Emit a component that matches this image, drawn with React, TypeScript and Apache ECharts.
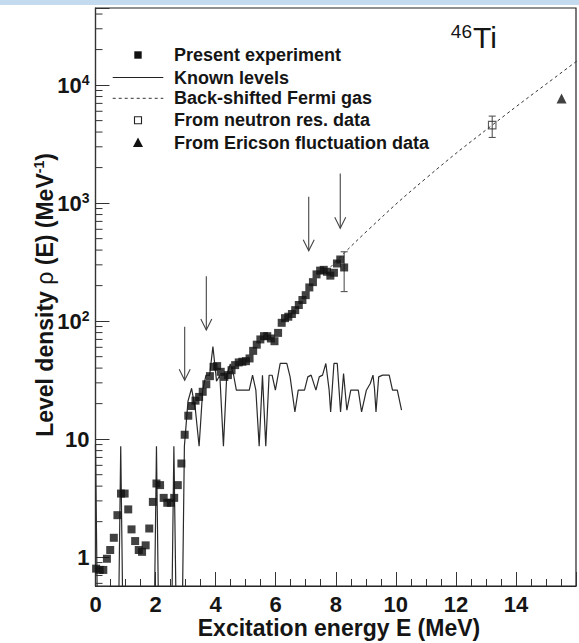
import React, { useEffect, useRef } from "react";
import * as echarts from "echarts";

// Present experiment: excitation energy (MeV) and level density (1/MeV)
const expE = [
  0.02, 0.14, 0.26, 0.38, 0.49, 0.61, 0.73, 0.85, 0.97,
  1.09, 1.2, 1.32, 1.44, 1.55, 1.67, 1.79, 1.91,
  2.03, 2.15, 2.27, 2.39, 2.51, 2.62, 2.74, 2.86, 2.97,
  3.09, 3.21, 3.33, 3.45, 3.57, 3.69, 3.81, 3.93,
  4.05, 4.17, 4.29, 4.41, 4.53, 4.65, 4.77, 4.89,
  5.01, 5.13, 5.25, 5.37, 5.49, 5.61, 5.72, 5.84, 5.96,
  6.08, 6.2, 6.31, 6.42, 6.54, 6.65, 6.77, 6.89,
  7.0, 7.12, 7.24, 7.36, 7.48, 7.6, 7.71, 7.82, 7.94,
  8.04, 8.15, 8.28,
];
const expRho = [
  0.8, 0.78, 0.78, 0.97, 1.15, 1.46, 2.27, 3.46, 3.46,
  2.54, 1.72, 1.37, 1.15, 1.11, 1.26, 1.75, 2.94,
  4.21, 4.08, 3.18, 2.89, 2.89, 3.18, 4.08, 6.22, 10.9,
  15.8, 19.1, 21.2, 22.8, 25.2, 29.2, 34.2, 41.0,
  41.6, 37.2, 33.7, 34.9, 38.4, 42.4, 44.7, 45.3,
  45.8, 48.3, 56.0, 63.2, 70.0, 74.6, 74.6, 71.3, 67.6,
  79.5, 96.8, 106, 109, 115, 124, 137, 151,
  166, 193, 214, 249, 268, 272, 262, 243, 257,
  308, 333, 285,
];
// error bar on the highest-energy point
const expErrE = [8.28];
const expErrLow = [178];
const expErrHigh = [387];

// Known levels (binned); empty bins sit below the axis floor
const knownE = [
  0.0, 0.1, 0.73, 0.84, 0.95, 1.92, 2.03, 2.14, 2.5, 2.61, 2.73, 2.85, 2.96,
  3.08, 3.2, 3.33, 3.45, 3.57, 3.68, 3.8, 3.91,
  4.03, 4.14, 4.26, 4.37, 4.49, 4.6, 4.69, 4.8, 4.92,
  5.03, 5.12, 5.23, 5.34, 5.45, 5.56, 5.67, 5.78, 5.88, 5.99,
  6.15, 6.37, 6.48, 6.64, 6.75, 6.96,
  7.07, 7.18, 7.34, 7.45, 7.56, 7.67, 7.78, 7.83, 7.94,
  8.05, 8.16, 8.26, 8.37, 8.5, 8.75, 8.86,
  9.02, 9.15, 9.24, 9.29, 9.34, 9.43, 9.56, 9.78, 9.89,
  10.05, 10.19,
];
const knownRho = [
  9.0, 0.05, 0.05, 8.7, 0.05, 0.05, 8.7, 0.05, 0.05, 8.7, 0.05, 0.05, 8.7,
  21, 27, 17.4, 8.7, 26, 34.8, 34.8, 61,
  31, 34.8, 8.7, 34.8, 43.5, 34.8, 26, 26, 26,
  26, 26, 34.8, 26, 8.7, 34.8, 8.7, 34.8, 34.8, 26,
  43.8, 43.8, 33.7, 17, 26, 26,
  33.7, 34.9, 26, 33.7, 34.9, 43.8, 26, 17, 43.8,
  43.8, 17, 36, 17.6, 26, 26, 17,
  26, 29.6, 34.9, 26.9, 17, 33.7, 34.9, 34.9, 26,
  26, 17.6,
];

// Back-shifted Fermi gas curve
const bsfgE = [7.83, 9.07, 11.0, 13.21, 15.7, 16.2];
const bsfgRho = [288, 590, 1620, 4580, 13840, 17200];

// Neutron resonance point with error, Ericson fluctuation point
const neutronE = [13.21];
const neutronRho = [4580];
const neutronLow = [3600];
const neutronHigh = [5460];
const ericsonE = [15.52];
const ericsonRho = [7700];

// Arrows: energy, tail value, tip value
const arrowE = [2.97, 3.69, 7.1, 8.15];
const arrowTail = [89.5, 240, 1130, 1785];
const arrowTip = [31.6, 84, 394, 611];

// Axis ranges and decade labels
const xMin = 0;
const xMax = 16;
const xStep = 2;
const yMin = 0.57;
const yMax = 45000;
const yDecades = [1, 10, 100, 1000, 10000];
const yMinorMultipliers = [2, 3, 4, 5, 6, 7, 8, 9];

const FONT = "'Liberation Sans', Arial, Helvetica, sans-serif";
const INK = "#151515";

const legendItems = [
  "Present experiment",
  "Known levels",
  "Back-shifted Fermi gas",
  "From neutron res. data",
  "From Ericson fluctuation data",
];

function buildOption(): any {
  const minorTicks: number[][] = [];
  [0.1, ...yDecades].forEach((d) => {
    yMinorMultipliers.forEach((m) => {
      const v = d * m;
      if (v > yMin && v < yMax) minorTicks.push([0, v]);
    });
  });

  const legendY = [55, 77.5, 98.3, 120.3, 142.5];
  const legendTextX = 174;
  const markX = 138;

  return {
    animation: false,
    backgroundColor: "#ffffff",
    grid: {
      left: 95.5,
      top: 8,
      right: -9.3,
      bottom: 57,
      show: true,
      borderColor: "#222",
      borderWidth: 1.2,
      backgroundColor: "transparent",
    },
    xAxis: {
      type: "value",
      min: xMin,
      max: xMax,
      interval: xStep,
      axisLine: { show: true, lineStyle: { color: "#222", width: 1.2 } },
      axisTick: { show: true, inside: true, length: 14, lineStyle: { color: "#333", width: 1 } },
      minorTick: { show: true, splitNumber: 4, length: 7, lineStyle: { color: "#333", width: 1 } },
      splitLine: { show: false },
      axisLabel: {
        margin: 8,
        fontSize: 22,
        lineHeight: 20,
        fontWeight: "bold",
        fontFamily: FONT,
        color: INK,
        formatter: (v: number) => (v >= xMax ? "" : String(v)),
      },
    },
    yAxis: {
      type: "log",
      logBase: 10,
      min: yMin,
      max: yMax,
      axisLine: { show: true, lineStyle: { color: "#333", width: 1.2 } },
      axisTick: { show: true, inside: true, length: 14, lineStyle: { color: "#333", width: 1 } },
      splitLine: { show: false },
      axisLabel: {
        margin: 6,
        formatter: (v: number) => {
          const l = Math.log10(v);
          const e = Math.round(l);
          if (Math.abs(l - e) > 1e-6) return "";
          if (e === 0) return "{b|1}";
          if (e === 1) return "{b|10}";
          return `{b|10}{s|${e}}`;
        },
        rich: {
          b: { fontSize: 22, fontWeight: "bold", fontFamily: FONT, color: INK, lineHeight: 24 },
          s: { fontSize: 14, fontWeight: "bold", fontFamily: FONT, color: INK, lineHeight: 14, verticalAlign: "top" },
        },
      },
    },
    series: [
      {
        name: "Known levels",
        type: "line",
        data: knownE.map((e, i) => [e, knownRho[i]]),
        symbol: "none",
        clip: true,
        lineStyle: { color: "#2a2a2a", width: 1.2 },
        z: 2,
      },
      {
        name: "Back-shifted Fermi gas",
        type: "line",
        data: bsfgE.map((e, i) => [e, bsfgRho[i]]),
        symbol: "none",
        smooth: true,
        clip: true,
        lineStyle: { color: "#333", width: 1, type: [3, 3] },
        z: 2,
      },
      {
        name: "Minor ticks",
        type: "custom",
        data: minorTicks,
        silent: true,
        renderItem: (_p: any, api: any) => {
          const p = api.coord([api.value(0), api.value(1)]);
          return {
            type: "line",
            shape: { x1: p[0], y1: p[1], x2: p[0] + 7, y2: p[1] },
            style: { stroke: "#333", lineWidth: 1 },
          };
        },
        z: 3,
      },
      {
        name: "Arrows",
        type: "custom",
        data: arrowE.map((e, i) => [e, arrowTail[i], arrowTip[i]]),
        encode: { x: 0, y: [1, 2] },
        silent: true,
        renderItem: (_p: any, api: any) => {
          const a = api.coord([api.value(0), api.value(1)]);
          const b = api.coord([api.value(0), api.value(2)]);
          return {
            type: "group",
            children: [
              {
                type: "line",
                shape: { x1: a[0], y1: a[1], x2: b[0], y2: b[1] },
                style: { stroke: "#444", lineWidth: 1.1 },
              },
              {
                type: "polyline",
                shape: { points: [[b[0] - 5.5, b[1] - 11], [b[0], b[1]], [b[0] + 5.5, b[1] - 11]] },
                style: { stroke: "#444", lineWidth: 1.1, fill: "none" },
              },
            ],
          };
        },
        z: 3,
      },
      {
        name: "Error bars",
        type: "custom",
        data: [
          ...expErrE.map((e, i) => [e, expErrLow[i], expErrHigh[i], 3.5]),
          ...neutronE.map((e, i) => [e, neutronLow[i], neutronHigh[i], 3.5]),
        ],
        encode: { x: 0, y: [1, 2] },
        silent: true,
        renderItem: (_p: any, api: any) => {
          const lo = api.coord([api.value(0), api.value(1)]);
          const hi = api.coord([api.value(0), api.value(2)]);
          const w = api.value(3);
          const st = { stroke: "#555", lineWidth: 1.1 };
          return {
            type: "group",
            children: [
              { type: "line", shape: { x1: lo[0], y1: lo[1], x2: hi[0], y2: hi[1] }, style: st },
              { type: "line", shape: { x1: lo[0] - w, y1: lo[1], x2: lo[0] + w, y2: lo[1] }, style: st },
              { type: "line", shape: { x1: hi[0] - w, y1: hi[1], x2: hi[0] + w, y2: hi[1] }, style: st },
            ],
          };
        },
        z: 3,
      },
      {
        name: "Present experiment",
        type: "scatter",
        data: expE.map((e, i) => [e, expRho[i]]),
        symbol: "rect",
        symbolSize: 8,
        itemStyle: { color: "#111" },
        z: 5,
      },
      {
        name: "From neutron res. data",
        type: "scatter",
        data: neutronE.map((e, i) => [e, neutronRho[i]]),
        symbol: "rect",
        symbolSize: 7.5,
        itemStyle: { color: "rgba(0,0,0,0)", borderColor: "#333", borderWidth: 1.1 },
        z: 5,
      },
      {
        name: "From Ericson fluctuation data",
        type: "scatter",
        data: ericsonE.map((e, i) => [e, ericsonRho[i]]),
        symbol: "triangle",
        symbolSize: 10,
        itemStyle: { color: "#111" },
        z: 5,
      },
    ],
    graphic: [
      // strip along the top edge
      { type: "rect", shape: { x: 0, y: 0, width: 579, height: 5 }, style: { fill: "#c4dbef" }, z: 10 },
      // nucleus label
      {
        type: "text",
        x: 472,
        y: 31,
        style: { text: "46", font: `19px ${FONT}`, fill: INK, align: "right", verticalAlign: "middle" },
        z: 10,
      },
      {
        type: "text",
        x: 473,
        y: 37.5,
        style: { text: "Ti", font: `30px ${FONT}`, fill: INK, align: "left", verticalAlign: "middle" },
        z: 10,
      },
      // legend markers
      { type: "rect", shape: { x: markX - 3.7, y: legendY[0] - 3.7, width: 7.4, height: 7.4 }, style: { fill: "#111" }, z: 10 },
      { type: "line", shape: { x1: 112.7, y1: legendY[1], x2: 163.3, y2: legendY[1] }, style: { stroke: "#222", lineWidth: 1.1 }, z: 10 },
      {
        type: "line",
        shape: { x1: 112.7, y1: legendY[2], x2: 163.3, y2: legendY[2] },
        style: { stroke: "#333", lineWidth: 1, lineDash: [3, 3] },
        z: 10,
      },
      {
        type: "rect",
        shape: { x: markX - 3.5, y: legendY[3] - 3.5, width: 7, height: 7 },
        style: { fill: "none", stroke: "#222", lineWidth: 1.1 },
        z: 10,
      },
      {
        type: "polygon",
        shape: { points: [[markX, legendY[4] - 5], [markX + 5, legendY[4] + 4.5], [markX - 5, legendY[4] + 4.5]] },
        style: { fill: "#111" },
        z: 10,
      },
      ...legendItems.map((t, i) => ({
        type: "text",
        x: legendTextX,
        y: legendY[i],
        style: { text: t, font: `bold 18px ${FONT}`, fill: INK, align: "left", verticalAlign: "middle" },
        z: 10,
      })),
      // axis titles
      {
        type: "text",
        x: 339,
        y: 628,
        style: {
          text: "Excitation energy E (MeV)",
          font: `bold 23px ${FONT}`,
          lineHeight: 22,
          fill: INK,
          align: "center",
          verticalAlign: "middle",
        },
        z: 10,
      },
      {
        type: "text",
        x: 45,
        y: 295,
        rotation: Math.PI / 2,
        style: {
          text: "{b|Level density }{r|ρ}{b| (E) (MeV}{s|-1}{b|)}",
          align: "center",
          verticalAlign: "middle",
          rich: {
            b: { fontSize: 23, fontWeight: "bold", fontFamily: FONT, fill: INK, lineHeight: 26 },
            r: { fontSize: 23, fontWeight: "normal", fontFamily: FONT, fill: INK, lineHeight: 26 },
            s: { fontSize: 14, fontWeight: "bold", fontFamily: FONT, fill: INK, lineHeight: 14, verticalAlign: "top" },
          },
        },
        z: 10,
      },
    ],
  };
}

export default function App() {
  const ref = useRef<HTMLDivElement>(null);
  useEffect(() => {
    if (!ref.current) return;
    const chart = echarts.init(ref.current, null, { renderer: "svg" });
    chart.setOption(buildOption());
    return () => chart.dispose();
  }, []);
  return (
    <div
      ref={ref}
      style={{ position: "fixed", left: 0, top: 0, width: 579, height: 643, background: "#fff", overflow: "hidden" }}
    />
  );
}
